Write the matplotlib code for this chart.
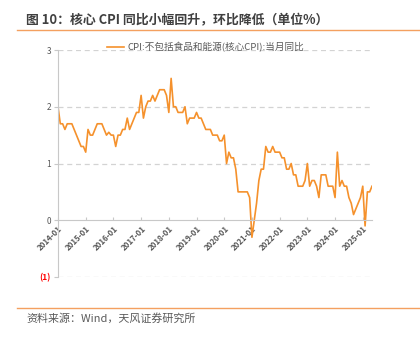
import matplotlib
matplotlib.use("Agg")
import matplotlib.pyplot as plt
from matplotlib.lines import Line2D

plt.rcParams['font.family'] = ['Noto Sans CJK SC', 'DejaVu Sans']

title = "图 10：核心 CPI 同比小幅回升，环比降低（单位%）"
source = "资料来源：Wind，天风证券研究所"
series_name = "CPI:不包括食品和能源(核心CPI):当月同比"

years = list(range(2014, 2026))
tick_labels = [f"{y}-01" for y in years]

# monthly core CPI yoy, 2014-01 .. 2025-05
v2014 = [2.0, 1.7, 1.7, 1.6, 1.7, 1.7, 1.7, 1.6, 1.5, 1.4, 1.3, 1.3]
v2015 = [1.2, 1.6, 1.5, 1.5, 1.6, 1.7, 1.7, 1.7, 1.6, 1.5, 1.55, 1.5]
v2016 = [1.5, 1.3, 1.5, 1.5, 1.6, 1.6, 1.8, 1.6, 1.7, 1.8, 1.9, 1.9]
v2017 = [2.2, 1.8, 2.0, 2.1, 2.1, 2.2, 2.1, 2.2, 2.3, 2.3, 2.3, 2.2]
v2018 = [1.9, 2.5, 2.0, 2.0, 1.9, 1.9, 1.9, 2.0, 1.7, 1.8, 1.8, 1.8]
v2019 = [1.9, 1.8, 1.8, 1.7, 1.6, 1.6, 1.6, 1.5, 1.5, 1.5, 1.4, 1.4]
v2020 = [1.5, 1.0, 1.2, 1.1, 1.1, 0.9, 0.5, 0.5, 0.5, 0.5, 0.5, 0.4]
v2021 = [-0.3, 0.0, 0.3, 0.7, 0.9, 0.9, 1.3, 1.2, 1.2, 1.3, 1.2, 1.2]
v2022 = [1.2, 1.1, 1.1, 0.9, 0.9, 1.0, 0.8, 0.8, 0.6, 0.6, 0.6, 0.7]
v2023 = [1.0, 0.6, 0.7, 0.7, 0.6, 0.4, 0.8, 0.8, 0.8, 0.6, 0.6, 0.6]
v2024 = [0.4, 1.2, 0.6, 0.7, 0.6, 0.6, 0.4, 0.3, 0.1, 0.2, 0.3, 0.4]
v2025 = [0.6, -0.1, 0.5, 0.5, 0.6]

values = v2014 + v2015 + v2016 + v2017 + v2018 + v2019 + v2020 + v2021 + v2022 + v2023 + v2024 + v2025
x = list(range(len(values)))

fig = plt.figure(figsize=(4.2, 3.38), dpi=100)
ax = fig.add_axes([58/420, 1-277/338, (372-58)/420, (277-50)/338])

for s in ['top', 'right']:
    ax.spines[s].set_visible(False)
ax.spines['bottom'].set_position(('data', 0))
ax.spines['bottom'].set_color('#C8C8C8')
ax.spines['left'].set_color('#C8C8C8')

ax.plot(x, values, color='#F5912C', lw=1.2, label=series_name)

ax.set_xlim(0, len(values) - 1)
ax.set_ylim(-1, 3)
ax.set_yticks([-1, 0, 1, 2, 3])
ax.set_yticklabels(['(1)', '0', '1', '2', '3'], fontsize=6, color='#595959')
ax.get_yticklabels()[0].set_color('#FF0000')
ax.get_yticklabels()[0].set_fontweight('bold')

ax.set_xticks([12*i for i in range(len(years))])
ax.set_xticklabels(tick_labels, rotation=45, ha='right', rotation_mode='anchor',
                   fontsize=5.7, color='#595959', fontweight='bold')

for yv in [-1, 1, 2, 3]:
    ax.axhline(yv, color='#D3D3D3', lw=0.9, ls=(0, (4, 3)), zorder=0)

ax.tick_params(axis='x', direction='in', length=2.5, color='#C8C8C8', pad=3)
ax.tick_params(axis='y', direction='out', length=3, color='#C8C8C8', pad=2)

ax.legend(loc='center', bbox_to_anchor=(0.47, 1.012), frameon=False,
          fontsize=6.9, handlelength=1.8, handletextpad=0.3,
          labelcolor='#595959', borderaxespad=0)

fig.text(26/420, 1-20/338, title, fontsize=9.3, fontweight='bold', color='#404040',
         va='center', ha='left')
fig.text(26/420, 1-318/338, source, fontsize=7.9, color='#595959', va='center', ha='left')
fig.add_artist(Line2D([17/420, 1.0], [1-30/338, 1-30/338], color='#F4A060', lw=1.0))
fig.add_artist(Line2D([17/420, 1.0], [1-308/338, 1-308/338], color='#F4A060', lw=1.0))

fig.savefig('out.png', dpi=100)
